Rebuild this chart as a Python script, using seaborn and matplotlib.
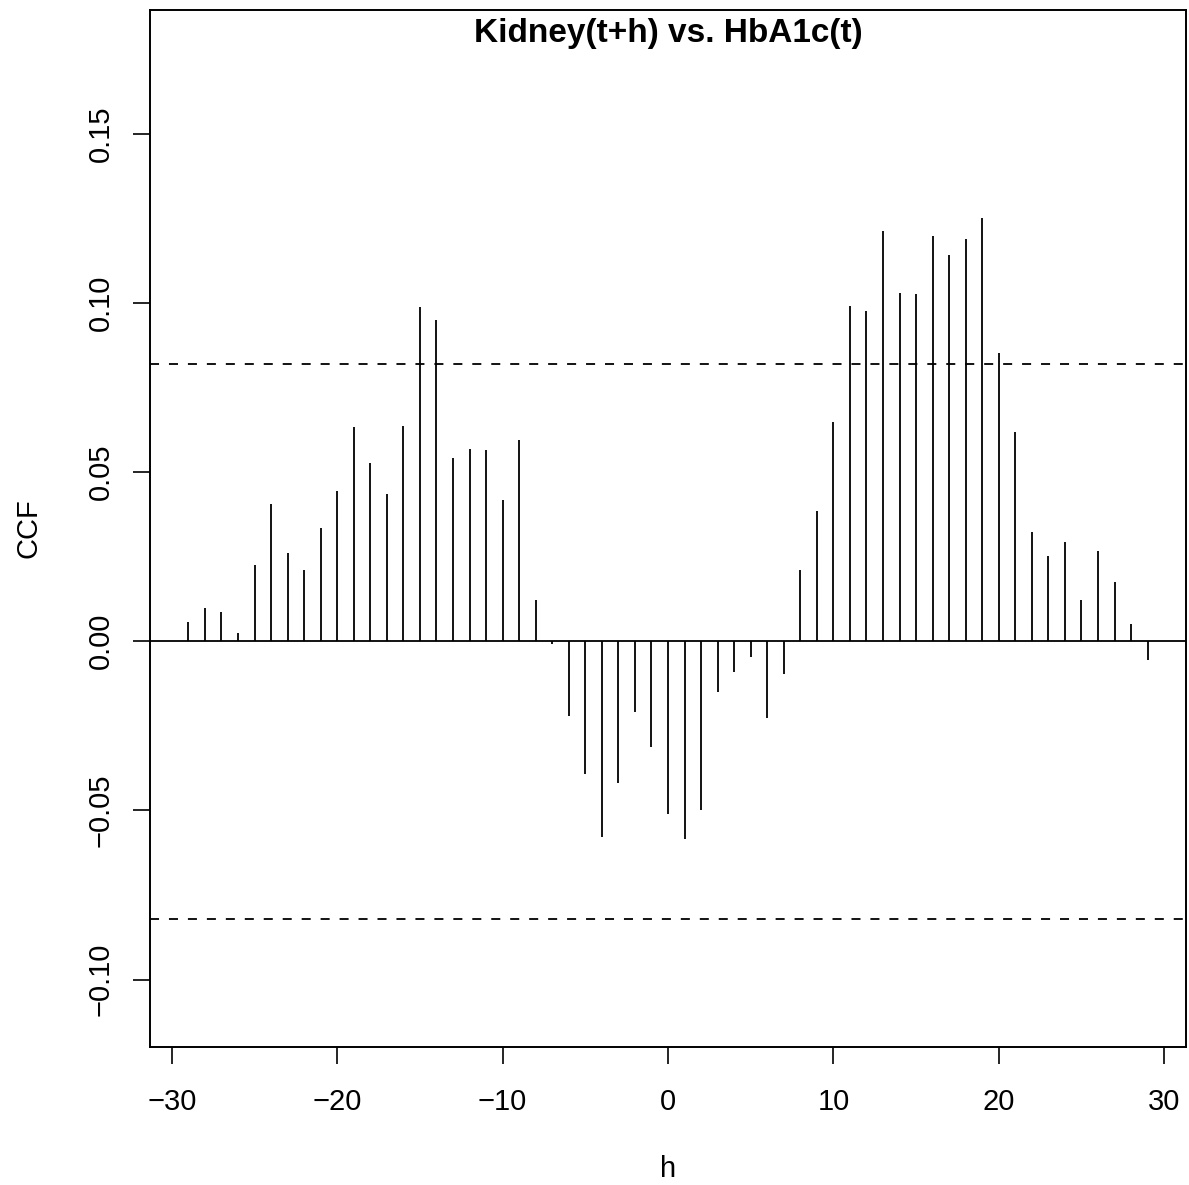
import numpy as np
import matplotlib
matplotlib.use("Agg")
import matplotlib.pyplot as plt
import seaborn as sns

# lags and cross-correlations
lags = list(range(-29, 30))
ccf = [0.0058, 0.0097, 0.0087, 0.0023, 0.0226, 0.0406, 0.0260, 0.0209, 0.0333, 0.0445,
       0.0632, 0.0526, 0.0436, 0.0636, 0.0988, 0.0950, 0.0541, 0.0567, 0.0566, 0.0417,
       0.0595, 0.0123, -0.0009, -0.0221, -0.0392, -0.0579, -0.0419, -0.0208, -0.0314, -0.0510,
       -0.0583, -0.0499, -0.0151, -0.0090, -0.0046, -0.0226, -0.0096, 0.0209, 0.0386, 0.0648,
       0.0990, 0.0977, 0.1212, 0.1030, 0.1026, 0.1196, 0.1141, 0.1189, 0.1251, 0.0851,
       0.0618, 0.0322, 0.0251, 0.0293, 0.0122, 0.0266, 0.0174, 0.0051, -0.0056]
conf_limit = 0.082
xticks = [-30, -20, -10, 0, 10, 20, 30]
yticks = [-0.10, -0.05, 0.00, 0.05, 0.10, 0.15]
title = "Kidney(t+h) vs. HbA1c(t)"

sns.set_theme(style="ticks", rc={"text.color": "black", "axes.labelcolor": "black",
                                 "xtick.color": "black", "ytick.color": "black",
                                 "axes.edgecolor": "black"})
plt.rcParams['font.family'] = ['Liberation Sans', 'DejaVu Sans']

fig = plt.figure(figsize=(11.89, 11.85), dpi=100)
ax = fig.add_axes([150 / 1189, 138 / 1185, 1036 / 1189, 1037 / 1185])

ax.vlines(lags, 0, ccf, color="black", lw=1.3)
ax.axhline(0, color="black", lw=1.3)
for c in (conf_limit, -conf_limit):
    ax.axhline(c, color="black", lw=1.3, linestyle=(0, (5, 5.5)))

ax.set_xlim(-31.32, 31.32)
ax.set_ylim(-0.1199, 0.1865)
ax.set_xticks(xticks)
ax.set_yticks(yticks)
ax.set_xticklabels([f"{t:d}".replace("-", "\u2212") for t in xticks])
ax.set_yticklabels([f"{t:.2f}".replace("-", "\u2212") for t in yticks],
                   rotation=90, va="center")

for s in ax.spines.values():
    s.set_linewidth(1.4)
    s.set_color("black")
ax.tick_params(axis="both", length=12.5, width=1.2, color="black",
               labelsize=21, labelcolor="black")
ax.tick_params(axis="x", pad=17)
ax.tick_params(axis="y", pad=13)

ax.set_xlabel("h", fontsize=21, labelpad=28, color="black")
ax.set_ylabel("CCF", fontsize=21, labelpad=32, color="black")
ax.text(0.5, 0.992, title, transform=ax.transAxes, ha="center", va="top",
        fontsize=24, fontweight="bold", color="black")

fig.savefig("out.png", dpi=100)
